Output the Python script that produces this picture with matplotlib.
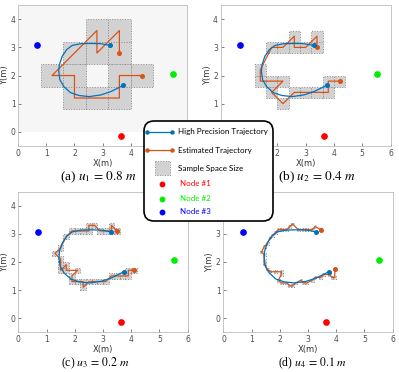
import numpy as np
import matplotlib.pyplot as plt
from matplotlib.patches import Rectangle, FancyBboxPatch

plt.rcParams['mathtext.fontset'] = 'stix'

# node positions
node_x = [3.65, 5.52, 0.68]
node_y = [-0.15, 2.05, 3.07]
node_colors = ['#ff0000', '#00ee00', '#0000ff']
node_labels = ['Node #1', 'Node #2', 'Node #3']

# high precision trajectory
hp_x = [3.28, 2.94, 2.58, 2.22, 1.92, 1.72, 1.56, 1.46, 1.44, 1.48, 1.62, 1.86,
        2.16, 2.52, 2.94, 3.30, 3.74]
hp_y = [3.07, 3.13, 3.14, 3.13, 3.07, 2.92, 2.68, 2.38, 2.14, 1.85, 1.61, 1.39,
        1.29, 1.25, 1.31, 1.43, 1.65]

# estimated trajectories, one per sample space size
sizes = [0.8, 0.4, 0.2, 0.1]
captions = [r'(a) $u_1\,=\,0.8\ m$', r'(b) $u_2\,=\,0.4\ m$',
            r'(c) $u_3\,=\,0.2\ m$', r'(d) $u_4\,=\,0.1\ m$']

est_x_a = [3.6, 3.6, 2.8, 2.8, 2.0, 1.2, 2.0, 2.0, 2.8, 3.6, 3.6, 4.4]
est_y_a = [2.8, 3.6, 2.8, 3.6, 2.8, 2.0, 2.0, 1.2, 1.2, 1.2, 2.0, 2.0]

est_x_b = [3.4, 3.4, 3.0, 2.6, 2.6, 2.2, 1.8, 1.4, 1.4, 1.8, 2.2, 1.8, 2.2, 2.6,
           3.0, 3.4, 3.8, 3.8, 4.2]
est_y_b = [3.0, 3.4, 3.0, 3.0, 3.4, 3.0, 3.0, 2.2, 1.8, 1.8, 1.8, 1.4, 1.0, 1.4,
           1.4, 1.4, 1.4, 1.8, 1.8]

est_x_c = [3.5, 3.3, 3.3, 3.1, 2.9, 2.7, 2.5, 2.5, 2.3, 2.1, 1.9, 1.7, 1.5, 1.3,
           1.5, 1.5, 1.5, 1.7, 1.7, 2.1, 1.9, 1.9, 2.1, 2.3, 2.3, 2.5, 2.7, 2.9,
           3.1, 3.3, 3.5, 3.7, 3.9, 3.9, 4.1]
est_y_c = [3.1, 3.3, 3.1, 3.1, 3.1, 3.3, 3.3, 3.1, 3.1, 3.1, 3.1, 2.9, 2.5, 2.3,
           2.1, 1.9, 1.7, 1.9, 1.7, 1.7, 1.5, 1.3, 1.3, 1.3, 1.1, 1.3, 1.3, 1.3,
           1.3, 1.5, 1.5, 1.5, 1.5, 1.7, 1.7]

est_x_d = [3.45, 3.25, 3.15, 2.95, 2.85, 2.65, 2.45, 2.35, 2.25, 2.05, 1.95, 1.85,
           1.75, 1.65, 1.55, 1.45, 1.35, 1.45, 1.45, 1.45, 1.55, 1.65, 1.85, 2.05,
           2.05, 1.95, 2.05, 2.25, 2.35, 2.45, 2.55, 2.75, 2.85, 2.95, 3.15, 3.25,
           3.45, 3.55, 3.75, 3.85, 3.95, 3.95]
est_y_d = [3.15, 3.25, 3.15, 3.15, 3.15, 3.15, 3.35, 3.25, 3.15, 3.15, 3.15, 3.05,
           2.95, 2.85, 2.65, 2.55, 2.35, 2.25, 2.05, 1.95, 1.75, 1.65, 1.65, 1.65,
           1.55, 1.35, 1.25, 1.25, 1.15, 1.15, 1.25, 1.35, 1.25, 1.25, 1.35, 1.45,
           1.45, 1.55, 1.55, 1.45, 1.45, 1.75]

est_x = [est_x_a, est_x_b, est_x_c, est_x_d]
est_y = [est_y_a, est_y_b, est_y_c, est_y_d]

blue = '#0072BD'
orange = '#D95319'

fig = plt.figure(figsize=(3.99, 3.72), dpi=100)

# axes rectangles [left, bottom, width, height] in figure fraction
boxes = [[0.046, 0.608, 0.422, 0.378],
         [0.553, 0.608, 0.426, 0.378],
         [0.046, 0.107, 0.424, 0.378],
         [0.560, 0.107, 0.424, 0.378]]
# caption centres (pixels) and sizes
cap_x = [99, 317, 95, 313]
cap_y = [177.5, 177.5, 363, 363]
cap_fs = [9.5, 9.5, 8.5, 8.5]

for i in range(4):
    ax = fig.add_axes(boxes[i])
    u = sizes[i]
    if i == 0:
        ax.axhspan(0, 4.5, color='#f6f6f6', zorder=0, lw=0)
    # sample space cells around every estimated point
    seen = set()
    for cx, cy in zip(est_x[i], est_y[i]):
        key = (round(cx, 3), round(cy, 3))
        if key in seen:
            continue
        seen.add(key)
        ax.add_patch(Rectangle((cx - u / 2, cy - u / 2), u, u,
                               facecolor='#d2d2d2', edgecolor='#8a8a8a',
                               linestyle=':', linewidth=0.7, zorder=1))
    ax.plot(est_x[i], est_y[i], color=orange, lw=0.9, zorder=2,
            marker='o', ms=2.6, markevery=[0, len(est_x[i]) - 1])
    ax.plot(hp_x, hp_y, color=blue, lw=0.9, zorder=3,
            marker='o', ms=2.6, markevery=[0, len(hp_x) - 1])
    for nx, ny, nc in zip(node_x, node_y, node_colors):
        ax.plot(nx, ny, 'o', color=nc, ms=3.8, zorder=4)

    ax.set_xlim(0, 6)
    ax.set_ylim(-0.5, 4.5)
    ax.set_xticks(range(0, 7))
    ax.set_yticks(range(0, 5))
    ax.tick_params(labelsize=5.5, length=2, width=0.5, direction='in',
                   colors='#4d4d4d', pad=2)
    for s in ax.spines.values():
        s.set_color('#bdbdbd')
        s.set_linewidth(0.6)
    ax.set_xlabel('X(m)', fontsize=6, color='#333333', labelpad=1)
    ax.set_ylabel('Y(m)', fontsize=6, color='#333333', labelpad=1)
    fig.text(cap_x[i] / 399, 1 - cap_y[i] / 372, captions[i],
             ha='center', va='center', fontsize=cap_fs[i],
             family='Liberation Serif')

# legend drawn as its own overlay
lax = fig.add_axes([0.0, 0.0, 1.0, 1.0])
lax.set_xlim(0, 399)
lax.set_ylim(372, 0)
lax.axis('off')
lax.add_patch(FancyBboxPatch((144, 121), 129, 100,
                             boxstyle='round,pad=0,rounding_size=10',
                             facecolor='white', edgecolor='black', lw=1.2))
lax.plot([147, 172], [131.5, 131.5], color=blue, lw=0.9, marker='o', ms=2.2)
lax.plot([147, 172], [150, 150], color=orange, lw=0.9, marker='o', ms=2.2)
lax.add_patch(Rectangle((154.5, 161), 15, 14, facecolor='#d2d2d2',
                        edgecolor='#8a8a8a', linestyle=':', lw=0.7))
legend_text = ['High Precision Trajectory', 'Estimated Trajectory',
               'Sample Space Size']
for txt, yy in zip(legend_text, [131.5, 150, 168]):
    lax.text(178.5, yy, txt, fontsize=5.8, va='center', ha='left',
             family='Lato', color='black')
for lbl, nc, yy in zip(node_labels, node_colors, [183.5, 198.5, 212]):
    lax.plot(162, yy, 'o', color=nc, ms=3.2)
    lax.text(180, yy, lbl, fontsize=5.8, va='center', ha='left',
             family='Lato', color=nc)

fig.savefig('out.png', dpi=100)
